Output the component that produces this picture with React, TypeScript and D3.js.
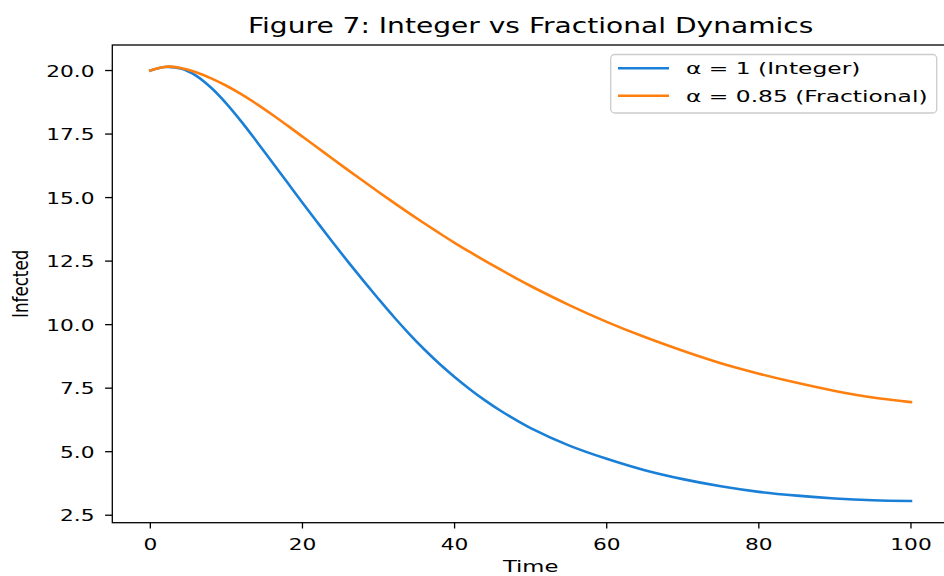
import React from "react";
import * as d3 from "d3";

const time = [0, 2, 4, 6, 8, 10, 12, 14, 16, 18, 20, 22, 24, 26, 28, 30, 32, 34, 36, 38, 40, 42, 44, 46, 48, 50, 55, 60, 65, 70, 75, 80, 85, 90, 95, 100];
const integerSeries = [20.0, 20.14, 20.08, 19.8, 19.32, 18.7, 17.98, 17.2, 16.4, 15.6, 14.8, 14.01, 13.23, 12.47, 11.73, 11.01, 10.31, 9.65, 9.03, 8.46, 7.94, 7.46, 7.02, 6.62, 6.26, 5.93, 5.25, 4.72, 4.27, 3.92, 3.64, 3.42, 3.27, 3.16, 3.09, 3.06];
const fractionalSeries = [20.0, 20.15, 20.1, 19.93, 19.69, 19.4, 19.06, 18.68, 18.27, 17.84, 17.4, 16.96, 16.52, 16.08, 15.65, 15.22, 14.8, 14.39, 13.99, 13.6, 13.22, 12.86, 12.51, 12.17, 11.84, 11.52, 10.78, 10.11, 9.51, 8.97, 8.48, 8.07, 7.71, 7.39, 7.13, 6.95];
const xTicks = [0, 20, 40, 60, 80, 100];
const yTicks = [2.5, 5.0, 7.5, 10.0, 12.5, 15.0, 17.5, 20.0];
const seriesNames = ["α = 1 (Integer)", "α = 0.85 (Fractional)"];
const seriesColors = ["#1a7fd6", "#ff7f0e"];
const title = "Figure 7: Integer vs Fractional Dynamics";
const xLabel = "Time";
const yLabel = "Infected";

const W = 944;
const H = 576;
const left = 112.3;
const right = 949;
const top = 45;
const bottom = 522.7;
const SX = 1.36;
const SXL = 1.4;
const SXT = 1.3;
const FONT = "DejaVu Sans";

export default function App() {
  const xMin = d3.min(time)!;
  const xMax = d3.max(time)!;
  const xPad = (xMax - xMin) * 0.05;
  const allY = [...integerSeries, ...fractionalSeries];
  const yMin = d3.min(allY)!;
  const yMax = d3.max(allY)!;
  const yPad = (yMax - yMin) * 0.05;
  const x = d3.scaleLinear().domain([xMin - xPad, xMax + xPad]).range([left, right]);
  const y = d3.scaleLinear().domain([yMin - yPad, yMax + yPad]).range([bottom, top]);
  const line = d3
    .line<number>()
    .x((_, i) => x(time[i]))
    .y((d) => y(d))
    .curve(d3.curveCatmullRom.alpha(0.5));
  const series = [integerSeries, fractionalSeries];
  const fs = 16.7;

  return (
    <svg width={W} height={H} style={{ position: "absolute", left: 0, top: 0 }} fontFamily={FONT}>
      <rect x={0} y={0} width={W} height={H} fill="#fff" />
      <defs>
        <clipPath id="plot">
          <rect x={left} y={top} width={right - left} height={bottom - top} />
        </clipPath>
      </defs>
      <g clipPath="url(#plot)">
        {series.map((s, k) => (
          <path key={k} d={line(s) || ""} fill="none" stroke={seriesColors[k]} strokeWidth={2.6} strokeLinecap="square" strokeLinejoin="round" />
        ))}
      </g>
      {/* spines */}
      <rect x={left} y={top} width={right - left} height={bottom - top} fill="none" stroke="#000" strokeWidth={1.3} />
      {/* x ticks */}
      {xTicks.map((t) => (
        <g key={"x" + t}>
          <line x1={x(t)} x2={x(t)} y1={bottom} y2={bottom + 5.8} stroke="#000" strokeWidth={1.3} />
          <text transform={`translate(${x(t)},${550}) scale(${SXT},1)`} textAnchor="middle" fontSize={fs} fill="#000">
            {String(t)}
          </text>
        </g>
      ))}
      {/* y ticks */}
      {yTicks.map((t) => (
        <g key={"y" + t}>
          <line x1={left - 7.2} x2={left} y1={y(t)} y2={y(t)} stroke="#000" strokeWidth={1.3} />
          <text transform={`translate(${94.5},${y(t) + 6}) scale(${SXT},1)`} textAnchor="end" fontSize={fs} fill="#000">
            {t.toFixed(1)}
          </text>
        </g>
      ))}
      {/* labels */}
      <text transform={`translate(${(left + right) / 2},${572}) scale(${SX},1)`} textAnchor="middle" fontSize={fs} fill="#000">
        {xLabel}
      </text>
      <text transform={`translate(${28},${(top + bottom) / 2}) scale(${1.229},1) rotate(-90)`} textAnchor="middle" fontSize={fs} fill="#000">
        {yLabel}
      </text>
      <text transform={`translate(${(left + right) / 2},${33}) scale(${1.37},1)`} textAnchor="middle" fontSize={20.5} fill="#000">
        {title}
      </text>
      {/* legend */}
      <rect x={610.7} y={54.5} width={326} height={58.5} rx={4} ry={4} fill="#fff" fillOpacity={0.8} stroke="#cccccc" strokeWidth={1.3} />
      {seriesNames.map((n, k) => (
        <g key={n}>
          <line x1={618} x2={669} y1={68.3 + k * 27.4} y2={68.3 + k * 27.4} stroke={seriesColors[k]} strokeWidth={2.6} />
          <text transform={`translate(${686},${74.3 + k * 27.4}) scale(${SXL},1)`} fontSize={fs} fill="#000">
            {n}
          </text>
        </g>
      ))}
    </svg>
  );
}
